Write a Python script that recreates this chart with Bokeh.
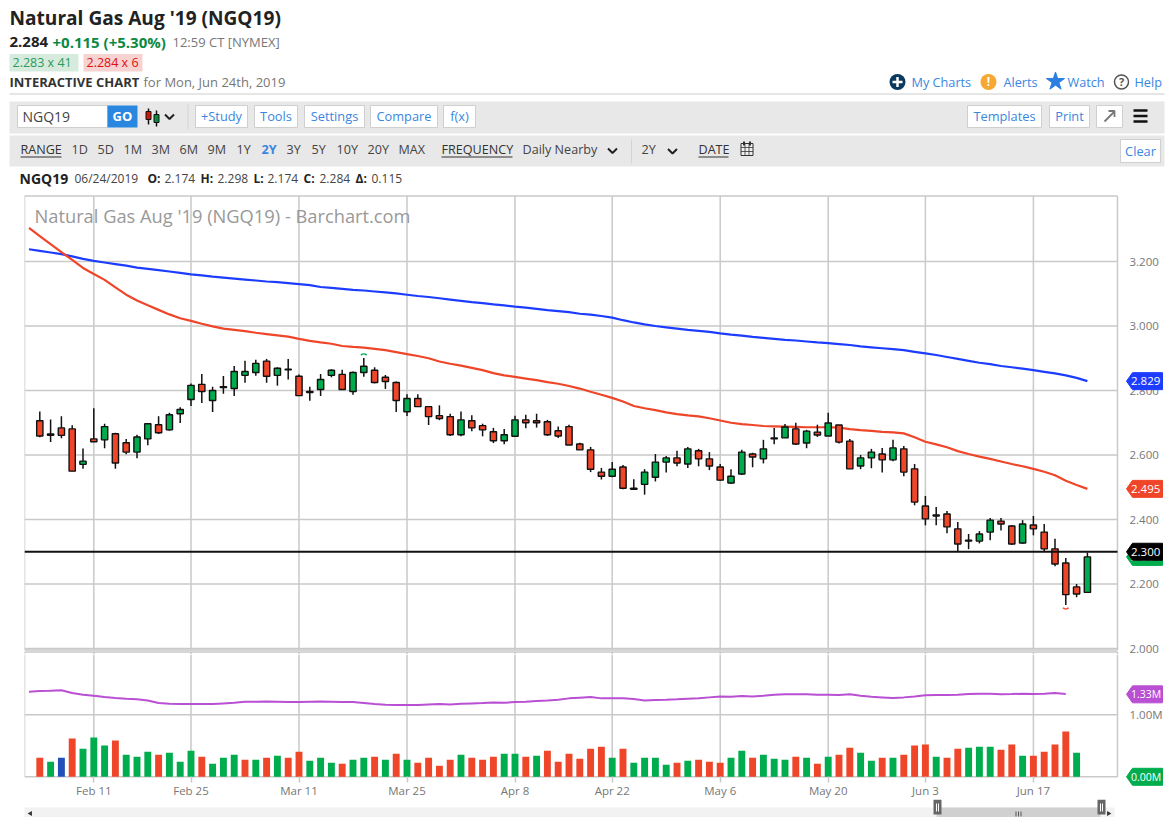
from math import pi
from bokeh.plotting import figure
from bokeh.layouts import column
from bokeh.models import Range1d, FixedTicker, LinearAxis
from bokeh.core.properties import value
from bokeh.embed import file_html
from bokeh.resources import INLINE

# ---------------- data ----------------
opens = [2.706,2.665,2.684,2.681,2.571,2.650,2.647,2.666,2.638,2.609,2.650,2.694,2.678,2.728,2.772,2.819,2.769,2.812,2.806,2.847,
         2.856,2.891,2.847,2.866,2.844,2.797,2.803,2.847,2.850,2.797,2.856,2.863,2.841,2.825,2.734,2.775,2.750,2.722,2.719,2.663,
         2.706,2.691,2.672,2.644,2.658,2.709,2.706,2.703,2.675,2.688,2.634,2.616,2.547,2.534,2.563,2.497,2.509,2.531,2.578,2.591,
         2.572,2.613,2.588,2.563,2.513,2.541,2.603,2.588,2.653,2.653,2.681,2.637,2.671,2.659,2.693,2.643,2.566,2.591,2.603,2.585,
         2.619,2.557,2.442,2.414,2.417,2.371,2.336,2.333,2.361,2.395,2.380,2.327,2.383,2.361,2.309,2.265,2.191,2.174]
closes = [2.659,2.661,2.661,2.550,2.581,2.641,2.688,2.575,2.609,2.656,2.697,2.669,2.725,2.741,2.816,2.797,2.800,2.809,2.859,2.859,
          2.884,2.844,2.869,2.864,2.784,2.794,2.834,2.863,2.803,2.856,2.875,2.825,2.828,2.769,2.775,2.750,2.719,2.713,2.663,2.709,
          2.684,2.678,2.644,2.663,2.709,2.700,2.700,2.663,2.659,2.631,2.616,2.556,2.534,2.556,2.497,2.494,2.547,2.578,2.591,2.575,
          2.619,2.588,2.566,2.522,2.534,2.609,2.594,2.619,2.650,2.687,2.634,2.674,2.662,2.699,2.640,2.557,2.591,2.609,2.585,2.622,
          2.547,2.454,2.402,2.411,2.377,2.324,2.333,2.355,2.398,2.386,2.324,2.386,2.371,2.309,2.262,2.167,2.169,2.284]
highs = [2.735,2.710,2.720,2.692,2.620,2.745,2.697,2.669,2.650,2.663,2.699,2.720,2.731,2.748,2.822,2.851,2.812,2.845,2.876,2.892,
         2.895,2.898,2.872,2.898,2.850,2.812,2.851,2.866,2.864,2.859,2.901,2.872,2.848,2.828,2.788,2.788,2.750,2.754,2.728,2.735,
         2.723,2.697,2.684,2.681,2.722,2.725,2.728,2.709,2.688,2.694,2.638,2.625,2.560,2.578,2.569,2.525,2.556,2.603,2.597,2.613,
         2.625,2.619,2.609,2.572,2.556,2.616,2.607,2.647,2.684,2.696,2.700,2.678,2.694,2.731,2.693,2.650,2.600,2.619,2.622,2.647,
         2.628,2.572,2.473,2.439,2.426,2.392,2.355,2.364,2.405,2.405,2.383,2.398,2.411,2.386,2.340,2.281,2.200,2.298]
lows = [2.655,2.640,2.652,2.550,2.557,2.640,2.621,2.557,2.602,2.590,2.630,2.665,2.675,2.699,2.752,2.761,2.733,2.790,2.783,2.824,
        2.846,2.824,2.815,2.834,2.784,2.768,2.783,2.841,2.803,2.787,2.843,2.822,2.805,2.733,2.721,2.750,2.693,2.708,2.659,2.658,
        2.674,2.658,2.637,2.633,2.657,2.683,2.685,2.659,2.653,2.631,2.616,2.547,2.524,2.531,2.494,2.494,2.477,2.518,2.546,2.565,
        2.560,2.565,2.553,2.519,2.511,2.538,2.562,2.574,2.633,2.653,2.631,2.621,2.656,2.659,2.636,2.557,2.556,2.559,2.546,2.581,
        2.534,2.444,2.382,2.382,2.357,2.302,2.308,2.326,2.336,2.366,2.321,2.324,2.351,2.302,2.255,2.135,2.159,2.174]
ma_red = [3.304,3.279,3.254,3.229,3.205,3.180,3.161,3.143,3.120,3.097,3.079,3.064,3.050,3.036,3.024,3.016,3.007,2.999,2.992,2.988,
          2.984,2.979,2.975,2.971,2.967,2.960,2.954,2.949,2.945,2.938,2.935,2.933,2.929,2.925,2.919,2.913,2.907,2.900,2.890,2.883,
          2.877,2.870,2.863,2.854,2.847,2.842,2.837,2.832,2.826,2.821,2.814,2.806,2.796,2.787,2.777,2.766,2.752,2.745,2.739,2.732,
          2.727,2.723,2.720,2.714,2.707,2.700,2.696,2.693,2.690,2.689,2.688,2.687,2.686,2.686,2.686,2.685,2.680,2.677,2.675,2.672,
          2.670,2.667,2.655,2.641,2.633,2.624,2.612,2.603,2.595,2.588,2.580,2.572,2.565,2.557,2.548,2.537,2.520,2.507,2.495]
ma_blue = [3.238,3.233,3.228,3.223,3.216,3.208,3.202,3.197,3.192,3.187,3.181,3.177,3.173,3.169,3.165,3.160,3.157,3.153,3.150,3.147,
           3.144,3.141,3.138,3.136,3.133,3.130,3.127,3.121,3.118,3.115,3.112,3.110,3.107,3.104,3.101,3.097,3.093,3.090,3.086,3.082,
           3.078,3.074,3.071,3.067,3.064,3.060,3.057,3.053,3.049,3.046,3.043,3.038,3.035,3.031,3.026,3.018,3.011,3.005,3.000,2.996,
           2.992,2.988,2.985,2.982,2.977,2.973,2.970,2.966,2.963,2.960,2.957,2.955,2.952,2.949,2.947,2.944,2.941,2.937,2.934,2.931,
           2.928,2.925,2.920,2.915,2.910,2.904,2.898,2.892,2.886,2.882,2.876,2.872,2.868,2.863,2.858,2.853,2.847,2.839,2.829]
volumes = [.308,.243,.308,.616,.454,.632,.503,.584,.357,.324,.405,.357,.389,.243,.422,.324,.211,.308,.357,.276,
           .276,.308,.341,.308,.405,.259,.308,.227,.211,.276,.308,.324,.276,.373,.276,.227,.308,.178,.276,.357,
           .308,.276,.324,.373,.373,.324,.341,.422,.243,.373,.292,.454,.486,.308,.454,.227,.308,.308,.195,.227,
           .259,.276,.243,.227,.308,.422,.308,.357,.292,.276,.324,.308,.211,.324,.357,.470,.389,.259,.308,.308,
           .357,.503,.519,.324,.308,.454,.470,.486,.486,.438,.519,.341,.341,.405,.519,.730,.389]
volume_dirs = "RGBRGGGRGGGRGGGRGGGRGRGRRGGGRGGRGRGRRRRGRRRGGRGRRRRR" \
              "RGRGGGGRGRRRGGRGGGRGRGRRGGRGRRRGRRGGGRRGRRRRG"
vol_avg = [1.373,1.384,1.389,1.395,1.351,1.324,1.308,1.286,1.270,1.259,1.249,1.232,1.189,1.178,1.173,1.173,1.173,1.173,1.184,1.195,
           1.211,1.211,1.216,1.211,1.205,1.205,1.211,1.216,1.211,1.205,1.205,1.189,1.173,1.162,1.157,1.157,1.157,1.168,1.173,1.168,
           1.178,1.184,1.189,1.200,1.195,1.205,1.211,1.222,1.232,1.243,1.265,1.276,1.286,1.265,1.265,1.265,1.254,1.232,1.238,1.243,
           1.249,1.259,1.265,1.281,1.297,1.292,1.303,1.297,1.308,1.324,1.330,1.330,1.330,1.324,1.324,1.319,1.330,1.308,1.292,1.281,
           1.270,1.281,1.297,1.314,1.319,1.319,1.324,1.335,1.341,1.341,1.330,1.335,1.341,1.335,1.341,1.351,1.335]
date_ticks = [5, 14, 24, 34, 44, 53, 63, 73, 82, 92]
date_labels = ["Feb 11", "Feb 25", "Mar 11", "Mar 25", "Apr 8", "Apr 22", "May 6", "May 20", "Jun 3", "Jun 17"]
price_ticks = [2.0, 2.2, 2.4, 2.6, 2.8, 3.0, 3.2]
support_level = 2.300

# ---------------- styling ----------------
RED, GREEN, BLUE, PURPLE, VBLUE = "#ef4529", "#00ad4e", "#1c3dff", "#b94fd3", "#2350b8"
GRID, LINK, GREYTXT = "#c9c9c9", "#3a87e0", "#777777"
FONT = "Open Sans"
X0, DX = 39.3, 10.8                     # page px of first candle, px per trading day
FL, FR = 24.0, 1117.0                   # chart frame, page px
PPU = 322.5                             # px per price unit
VPU = 62.0                              # px per million
px2x = lambda px: (px - X0) / DX
py = lambda y: 2.2 + (583.5 - y) / PPU
vy = lambda y: (776.3 - y) / VPU
W = 1169


def plain(height, ytop, ybot):
    p = figure(width=W, height=height, x_range=Range1d(0, W), y_range=Range1d(ybot, ytop),
               output_backend="svg", toolbar_location=None, x_axis_location=None, y_axis_location=None,
               min_border=0, min_border_left=0, min_border_right=0, min_border_top=0, min_border_bottom=0,
               outline_line_color=None, frame_align=False)
    p.grid.visible = False
    return p


def T(p, x, y, s, size=13, color="#333333", bold=False, align="left", font=FONT):
    p.text(x=[x], y=[y], text=[s], text_font=value(font), text_font_size=value(f"{size}px"),
           text_color=color, text_font_style="bold" if bold else "normal",
           text_baseline="middle", text_align=align)


def box(p, l, r, t, b, fill, line=None, lw=1):
    p.quad(left=[l], right=[r], top=[t], bottom=[b], fill_color=fill, line_color=line, line_width=lw)


def seg(p, x0, y0, x1, y1, color="#333333", lw=1):
    p.segment(x0=[x0], y0=[y0], x1=[x1], y1=[y1], line_color=color, line_width=lw)


def chevron(p, x, y):
    p.line(x=[x - 4.5, x, x + 4.5], y=[y - 2, y + 2.5, y - 2], line_color="#222222", line_width=2)


def button(p, l, r, s):
    box(p, l, r, 105, 127, "#ffffff", "#cfcfcf")
    T(p, (l + r) / 2, 115.8, s, 12.8, LINK, align="center")


# ---------------- header ----------------
h = plain(194, 0, 194)
T(h, 9, 17.5, "Natural Gas Aug '19 (NGQ19)", 19.1, "#222222", True)
T(h, 9, 41.5, "2.284", 15, "#222222", True)
T(h, 52, 41.5, "+0.115 (+5.30%)", 15, "#0b8a45", True)
T(h, 172, 41.5, "12:59 CT [NYMEX]", 13, "#777777")
box(h, 9, 78, 53.5, 71, "#d6ebde")
T(h, 12, 62, "2.283 x 41", 12.5, "#2b9a5a")
box(h, 83, 142, 53.5, 71, "#f6d2d0")
T(h, 86, 62, "2.284 x 6", 12.5, "#e01010")
T(h, 9, 81, "INTERACTIVE CHART", 13, "#333333", True)
T(h, 143, 81, "for Mon, Jun 24th, 2019", 13, "#777777")
seg(h, 9, 93.5, 1164, 93.5, "#cccccc", 1)

h.circle(x=[897], y=[81.5], radius=8, fill_color="#0b3a5e", line_color=None)
seg(h, 892, 81.5, 902, 81.5, "#ffffff", 2.5)
seg(h, 897, 76.5, 897, 86.5, "#ffffff", 2.5)
T(h, 911, 81, "My Charts", 12.7, LINK)
h.circle(x=[988], y=[81.5], radius=8, fill_color="#f7a733", line_color=None)
T(h, 988, 81, "!", 12, "#ffffff", True, "center")
T(h, 1003, 81, "Alerts", 12.7, LINK)
h.scatter(x=[1055], y=[81], marker="star", size=19, fill_color="#2a7fe0", line_color="#2a7fe0")
T(h, 1067, 81, "Watch", 12.7, LINK)
h.circle(x=[1121], y=[81.5], radius=7, fill_color="#ffffff", line_color="#555555", line_width=1.5)
T(h, 1121, 81, "?", 11, "#555555", True, "center")
T(h, 1134, 81, "Help", 12.7, LINK)

box(h, 9, 1164, 101, 133, "#e8e8e8")
box(h, 17, 107, 105, 127, "#ffffff", "#cfcfcf")
T(h, 22, 115.8, "NGQ19", 14, "#444444")
box(h, 107, 137, 105, 127, "#2a87e0")
T(h, 122, 115.5, "GO", 13, "#ffffff", True, "center")
seg(h, 148, 108, 148, 124, "#111111", 1.5)
box(h, 145.5, 150.5, 111, 119, "#c8180c", "#111111")
seg(h, 156, 110, 156, 126, "#111111", 1.5)
box(h, 153.5, 158.5, 114, 122, "#0c8a3c", "#111111")
chevron(h, 169, 116)
seg(h, 187.5, 104, 187.5, 129, "#d4d4d4")
for l, r, s in [(195, 247, "+Study"), (254, 297, "Tools"), (304, 364, "Settings"), (370, 437, "Compare"),
                (443, 475, "f(x)"), (967, 1041, "Templates"), (1049, 1089, "Print")]:
    button(h, l, r, s)
button(h, 1096, 1122, "")
seg(h, 1104, 121, 1114, 111, "#777777", 1.8)
h.line(x=[1108, 1114, 1114], y=[110.5, 110.5, 116.5], line_color="#777777", line_width=1.8)
for y in (110, 115.5, 121):
    seg(h, 1133, y, 1147, y, "#111111", 2.6)

box(h, 9, 1164, 135, 166, "#e8e8e8")
T(h, 20, 149, "RANGE", 12.6, "#333333")
seg(h, 20, 156.5, 61, 156.5, "#333333")
for x, s in [(71, "1D"), (97, "5D"), (123, "1M"), (151, "3M"), (179, "6M"), (207, "9M"), (236, "1Y"),
             (286, "3Y"), (311, "5Y"), (336, "10Y"), (367, "20Y"), (398, "MAX")]:
    T(h, x, 149, s, 12.6, "#444444")
T(h, 261, 149, "2Y", 12.6, LINK, True)
T(h, 441, 149, "FREQUENCY", 12.6, "#333333")
seg(h, 441, 156.5, 512, 156.5, "#333333")
T(h, 522, 149, "Daily Nearby", 12.6, "#444444")
chevron(h, 612, 150)
seg(h, 631, 139, 631, 163, "#d4d4d4")
T(h, 641, 149, "2Y", 12.6, "#444444")
chevron(h, 672, 150.5)
T(h, 698, 149, "DATE", 12.6, "#333333")
seg(h, 698, 156.5, 728, 156.5, "#333333")
box(h, 740.5, 752.5, 143, 155, "#f0f0f0", "#333333")
for x in (744.5, 748.5):
    seg(h, x, 143, x, 155, "#333333", 0.8)
for y in (147, 151):
    seg(h, 740.5, y, 752.5, y, "#333333", 0.8)
seg(h, 743.5, 141, 743.5, 145, "#333333", 2)
seg(h, 749.5, 141, 749.5, 145, "#333333", 2)
box(h, 1120, 1160, 139, 162, "#ffffff", "#cfcfcf")
T(h, 1140, 150, "Clear", 12.8, LINK, align="center")

T(h, 19, 178, "NGQ19", 14, "#222222", True)
T(h, 74, 178, "06/24/2019", 12, "#444444")
for x, s in [(147, "O:"), (200, "H:"), (253, "L:"), (303, "C:"), (355, "Δ:")]:
    T(h, x, 178, s, 12, "#222222", True)
for x, s in [(164, "2.174"), (217, "2.298"), (267, "2.174"), (319, "2.284"), (371, "0.115")]:
    T(h, x, 178, s, 12, "#444444")


def tag(fig, v, text, color, upp, size="11.5px"):
    """Arrow-shaped last-value tag on the right of the panel."""
    d = 8.5 / upp
    xs = [px2x(a) for a in (1126, 1132, 1162, 1162, 1132)]
    ys = [v, v + d, v + d, v - d, v - d]
    fig.patch(xs, ys, fill_color=color, line_color=color, level="overlay")
    fig.text(x=[px2x(1130.5)], y=[v], text=[text], text_color="#ffffff", text_font=value(FONT),
             text_font_size=value(size), text_baseline="middle", text_align="left", level="overlay")


def right_axis(fig, ticks, overrides):
    ax = LinearAxis(fixed_location=px2x(FR), ticker=FixedTicker(ticks=ticks), major_label_overrides=overrides,
                    axis_line_color=None, major_tick_line_color=None, minor_tick_line_color=None,
                    major_label_standoff=6, major_label_text_font=FONT, major_label_text_font_size="11.5px",
                    major_label_text_color=GREYTXT)
    fig.add_layout(ax, "right")


# ---------------- price panel ----------------
PT, PB = 195.5, 649.5
p = figure(width=W, height=460, x_range=Range1d(px2x(FL), px2x(W)), y_range=Range1d(py(654), py(194)),
           output_backend="svg", toolbar_location=None, x_axis_location=None, y_axis_location=None,
           min_border_left=int(FL), min_border_right=0, min_border_top=0, min_border_bottom=0,
           outline_line_color=None, frame_align=False)
p.grid.visible = False
right_axis(p, price_ticks, {t: f"{t:.3f}" for t in price_ticks})

rules_x0 = [px2x(FL)] * (len(price_ticks) + 2)
rules_x1 = [px2x(FR)] * (len(price_ticks) + 2)
rules_y = price_ticks + [py(PT), py(PB)]
p.segment(x0=rules_x0, y0=rules_y, x1=rules_x1, y1=rules_y, line_color=GRID, line_width=1.5)
edges = date_ticks + [px2x(FL), px2x(FR)]
p.segment(x0=edges, y0=[py(PT)] * len(edges), x1=edges, y1=[py(PB)] * len(edges), line_color=GRID, line_width=1.5)
seg(p, px2x(FL), py(651.5), px2x(FR), py(651.5), GRID, 1.5)
p.segment(x0=edges, y0=[py(651.5)] * len(edges), x1=edges, y1=[py(654)] * len(edges), line_color=GRID, line_width=1.5)

p.line(list(range(-1, len(ma_blue) - 1)), ma_blue, line_color=BLUE, line_width=2.2)
p.line(list(range(-1, len(ma_red) - 1)), ma_red, line_color=RED, line_width=2.2)

idx = list(range(len(opens)))
body_top = [max(o, c) for o, c in zip(opens, closes)]
body_bot = [min(o, c) for o, c in zip(opens, closes)]
body_col = [GREEN if c > o else RED for o, c in zip(opens, closes)]
p.segment(x0=idx, y0=highs, x1=idx, y1=lows, line_color="#111111", line_width=1.5)
p.vbar(x=idx, top=body_top, bottom=body_bot, width=0.58, fill_color=body_col, line_color="#111111", line_width=1.4)

hi_i = highs.index(max(highs))
lo_i = lows.index(min(lows))
p.arc(x=[hi_i], y=[highs[hi_i]], radius=4, radius_units="screen", start_angle=pi / 4, end_angle=3 * pi / 4,
      line_color=GREEN, line_width=1.5)
p.arc(x=[lo_i], y=[lows[lo_i]], radius=4, radius_units="screen", start_angle=5 * pi / 4, end_angle=7 * pi / 4,
      line_color=RED, line_width=1.5)

seg(p, px2x(FL), support_level, px2x(FR), support_level, "#111111", 2)

tag(p, closes[-1], f"{closes[-1]:.3f}", GREEN, PPU)
tag(p, ma_blue[-1], f"{ma_blue[-1]:.3f}", BLUE, PPU)
tag(p, ma_red[-1], f"{ma_red[-1]:.3f}", RED, PPU)
tag(p, support_level, f"{support_level:.3f}", "#000000", PPU)
T(p, px2x(34), py(214.5), "Natural Gas Aug '19 (NGQ19) - Barchart.com", 18.3, "#999999")

# ---------------- volume panel ----------------
v = figure(width=W, height=145, x_range=Range1d(px2x(FL), px2x(W)), y_range=Range1d(vy(799), vy(654)),
           output_backend="svg", toolbar_location=None, x_axis_location=None, y_axis_location=None,
           min_border_left=int(FL), min_border_right=0, min_border_top=0, min_border_bottom=0,
           outline_line_color=None, frame_align=False)
v.grid.visible = False
right_axis(v, [0, 1], {0: "0.00M", 1: "1.00M"})
xa = LinearAxis(fixed_location=0, ticker=FixedTicker(ticks=date_ticks),
                major_label_overrides=dict(zip(date_ticks, date_labels)), axis_line_color=None,
                major_tick_line_color=GRID, major_tick_line_width=1.5, major_tick_out=6, major_tick_in=0,
                minor_tick_line_color=None, major_label_standoff=0, major_label_text_font=FONT,
                major_label_text_font_size="11.5px", major_label_text_color=GREYTXT)
v.add_layout(xa, "below")
v.segment(x0=[px2x(FL)] * 2, y0=[0, 1], x1=[px2x(FR)] * 2, y1=[0, 1], line_color=GRID, line_width=1.5)
v.segment(x0=edges, y0=[0] * len(edges), x1=edges, y1=[vy(654)] * len(edges), line_color=GRID, line_width=1.5)

cmap = {"R": RED, "G": GREEN, "B": VBLUE}
v.vbar(x=list(range(len(volumes))), top=volumes, bottom=0, width=0.64,
       fill_color=[cmap[c] for c in volume_dirs], line_color=None)
v.line(list(range(-1, len(vol_avg) - 1)), vol_avg, line_color=PURPLE, line_width=2)
tag(v, 1.33, "1.33M", PURPLE, VPU, "10.5px")
tag(v, 0.0, "0.00M", GREEN, VPU, "10.5px")

# ---------------- scroll bar ----------------
f = plain(18, 799, 817)
box(f, 24, 1114, 807, 817, "#f2f2f2")
box(f, 936, 1100, 807, 817, "#d0d0d0")
f.scatter(x=[30, 1108], y=[813, 813], marker="triangle", size=5, fill_color="#333333", line_color=None,
          angle=[pi / 2, -pi / 2])
for x0 in (933, 1097):
    box(f, x0, x0 + 8, 799, 814, "#666666")
    seg(f, x0 + 3, 803, x0 + 3, 811, "#ffffff", 1)
    seg(f, x0 + 5, 803, x0 + 5, 811, "#ffffff", 1)
for x in (1015.5, 1018, 1020.5):
    seg(f, x, 811, x, 816, "#555555", 1)

open("out.html", "w").write(file_html(column(h, p, v, f, spacing=0), INLINE))
